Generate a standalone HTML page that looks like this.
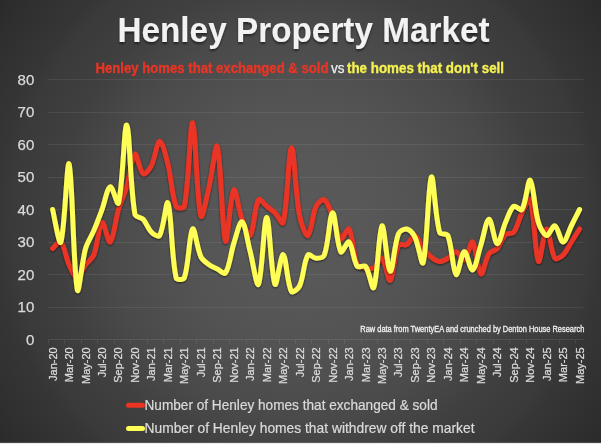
<!DOCTYPE html>
<html><head><meta charset="utf-8">
<style>
html,body{margin:0;padding:0;}
body{width:601px;height:444px;overflow:hidden;position:relative;
background:radial-gradient(circle at 300px 222px, #595959 0px, #585858 62px, #535353 127px, #4a4a4a 196px, #464646 216px, #404040 243px, #3a3a3a 290px, #363636 303px, #2f2f2f 348px, #2a2a2a 375px);
font-family:"Liberation Sans",Arial,sans-serif;}
#bot{position:absolute;left:0;top:442px;width:601px;height:2px;background:linear-gradient(to bottom, rgba(255,255,255,0.13) 0px, rgba(255,255,255,0.13) 1px, #ececec 1px, #ececec 2px);}
svg{position:absolute;left:0;top:0;}
text{font-family:"Liberation Sans",Arial,sans-serif;}
.g{stroke:#ffffff;stroke-opacity:0.075;stroke-width:1}
.ax{stroke:#ffffff;stroke-opacity:0.09;stroke-width:1}
.yl{fill:#dadada;font-size:15px;text-anchor:end;stroke:#dadada;stroke-width:0.25px}
.xl{fill:#dcdcdc;font-size:11px;text-anchor:end;stroke:#dcdcdc;stroke-width:0.25px}
.src{fill:#f2f2f2;font-size:8.7px;font-weight:normal;stroke:#f2f2f2;stroke-width:0.3px}
.leg{fill:#dadada;font-size:14.8px;stroke:#dadada;stroke-width:0.22px}
.ttl{fill:#f2f2f2;font-size:35.5px;font-weight:bold}
.sub{font-size:14.8px;font-weight:bold}
</style></head><body>
<svg width="601" height="444" viewBox="0 0 601 444">
<defs>
<filter id="sh" x="-5%" y="-20%" width="110%" height="140%">
<feGaussianBlur in="SourceAlpha" stdDeviation="1.2"/>
<feOffset dx="0.3" dy="1" result="b"/>
<feComponentTransfer><feFuncA type="linear" slope="0.6"/></feComponentTransfer>
<feMerge><feMergeNode/><feMergeNode in="SourceGraphic"/></feMerge>
</filter>
<filter id="tsh" x="-5%" y="-20%" width="110%" height="150%">
<feGaussianBlur in="SourceAlpha" stdDeviation="1.0"/>
<feOffset dx="0.2" dy="1.6" result="b"/>
<feComponentTransfer><feFuncA type="linear" slope="0.5"/></feComponentTransfer>
<feMerge><feMergeNode/><feMergeNode in="SourceGraphic"/></feMerge>
</filter>
</defs>
<text x="117.4" y="42" class="ttl" textLength="372.3" lengthAdjust="spacingAndGlyphs" filter="url(#tsh)">Henley Property Market</text>
<text x="95.5" y="72.9" class="sub" fill="#ea3525" stroke="#ea3525" stroke-width="0.35" textLength="233" lengthAdjust="spacingAndGlyphs">Henley homes that exchanged &amp; sold</text>
<text x="331" y="72.9" class="sub" fill="#eeeeee" stroke="#eeeeee" stroke-width="0.25" font-weight="normal" style="font-weight:normal" textLength="13.5" lengthAdjust="spacingAndGlyphs">vs</text>
<text x="347" y="72.9" class="sub" fill="#f4f150" stroke="#f4f150" stroke-width="0.35" textLength="157" lengthAdjust="spacingAndGlyphs">the homes that don't sell</text>
<line x1="48" y1="307.50" x2="583.5" y2="307.50" class="g"/>
<line x1="48" y1="274.50" x2="583.5" y2="274.50" class="g"/>
<line x1="48" y1="242.50" x2="583.5" y2="242.50" class="g"/>
<line x1="48" y1="209.50" x2="583.5" y2="209.50" class="g"/>
<line x1="48" y1="177.50" x2="583.5" y2="177.50" class="g"/>
<line x1="48" y1="144.50" x2="583.5" y2="144.50" class="g"/>
<line x1="48" y1="112.50" x2="583.5" y2="112.50" class="g"/>
<line x1="48" y1="79.50" x2="583.5" y2="79.50" class="g"/>

<line x1="48" y1="339.5" x2="583.5" y2="339.5" class="ax"/>
<line x1="48.50" y1="340" x2="48.50" y2="343.5" class="ax"/>
<line x1="64.50" y1="340" x2="64.50" y2="343.5" class="ax"/>
<line x1="81.50" y1="340" x2="81.50" y2="343.5" class="ax"/>
<line x1="97.50" y1="340" x2="97.50" y2="343.5" class="ax"/>
<line x1="114.50" y1="340" x2="114.50" y2="343.5" class="ax"/>
<line x1="130.50" y1="340" x2="130.50" y2="343.5" class="ax"/>
<line x1="147.50" y1="340" x2="147.50" y2="343.5" class="ax"/>
<line x1="163.50" y1="340" x2="163.50" y2="343.5" class="ax"/>
<line x1="180.50" y1="340" x2="180.50" y2="343.5" class="ax"/>
<line x1="196.50" y1="340" x2="196.50" y2="343.5" class="ax"/>
<line x1="213.50" y1="340" x2="213.50" y2="343.5" class="ax"/>
<line x1="229.50" y1="340" x2="229.50" y2="343.5" class="ax"/>
<line x1="246.50" y1="340" x2="246.50" y2="343.5" class="ax"/>
<line x1="262.50" y1="340" x2="262.50" y2="343.5" class="ax"/>
<line x1="279.50" y1="340" x2="279.50" y2="343.5" class="ax"/>
<line x1="295.50" y1="340" x2="295.50" y2="343.5" class="ax"/>
<line x1="311.50" y1="340" x2="311.50" y2="343.5" class="ax"/>
<line x1="328.50" y1="340" x2="328.50" y2="343.5" class="ax"/>
<line x1="344.50" y1="340" x2="344.50" y2="343.5" class="ax"/>
<line x1="361.50" y1="340" x2="361.50" y2="343.5" class="ax"/>
<line x1="377.50" y1="340" x2="377.50" y2="343.5" class="ax"/>
<line x1="394.50" y1="340" x2="394.50" y2="343.5" class="ax"/>
<line x1="410.50" y1="340" x2="410.50" y2="343.5" class="ax"/>
<line x1="427.50" y1="340" x2="427.50" y2="343.5" class="ax"/>
<line x1="443.50" y1="340" x2="443.50" y2="343.5" class="ax"/>
<line x1="460.50" y1="340" x2="460.50" y2="343.5" class="ax"/>
<line x1="476.50" y1="340" x2="476.50" y2="343.5" class="ax"/>
<line x1="493.50" y1="340" x2="493.50" y2="343.5" class="ax"/>
<line x1="509.50" y1="340" x2="509.50" y2="343.5" class="ax"/>
<line x1="526.50" y1="340" x2="526.50" y2="343.5" class="ax"/>
<line x1="542.50" y1="340" x2="542.50" y2="343.5" class="ax"/>
<line x1="559.50" y1="340" x2="559.50" y2="343.5" class="ax"/>
<line x1="575.50" y1="340" x2="575.50" y2="343.5" class="ax"/>

<text x="34.3" y="344.90" class="yl">0</text>
<text x="34.3" y="312.40" class="yl">10</text>
<text x="34.3" y="279.90" class="yl">20</text>
<text x="34.3" y="247.40" class="yl">30</text>
<text x="34.3" y="214.90" class="yl">40</text>
<text x="34.3" y="182.40" class="yl">50</text>
<text x="34.3" y="149.90" class="yl">60</text>
<text x="34.3" y="117.40" class="yl">70</text>
<text x="34.3" y="84.90" class="yl">80</text>

<text transform="translate(56.62,347.3) rotate(-90)" class="xl">Jan-20</text>
<text transform="translate(73.09,347.3) rotate(-90)" class="xl">Mar-20</text>
<text transform="translate(89.55,347.3) rotate(-90)" class="xl">May-20</text>
<text transform="translate(106.02,347.3) rotate(-90)" class="xl">Jul-20</text>
<text transform="translate(122.49,347.3) rotate(-90)" class="xl">Sep-20</text>
<text transform="translate(138.96,347.3) rotate(-90)" class="xl">Nov-20</text>
<text transform="translate(155.43,347.3) rotate(-90)" class="xl">Jan-21</text>
<text transform="translate(171.89,347.3) rotate(-90)" class="xl">Mar-21</text>
<text transform="translate(188.36,347.3) rotate(-90)" class="xl">May-21</text>
<text transform="translate(204.83,347.3) rotate(-90)" class="xl">Jul-21</text>
<text transform="translate(221.30,347.3) rotate(-90)" class="xl">Sep-21</text>
<text transform="translate(237.76,347.3) rotate(-90)" class="xl">Nov-21</text>
<text transform="translate(254.23,347.3) rotate(-90)" class="xl">Jan-22</text>
<text transform="translate(270.70,347.3) rotate(-90)" class="xl">Mar-22</text>
<text transform="translate(287.17,347.3) rotate(-90)" class="xl">May-22</text>
<text transform="translate(303.64,347.3) rotate(-90)" class="xl">Jul-22</text>
<text transform="translate(320.11,347.3) rotate(-90)" class="xl">Sep-22</text>
<text transform="translate(336.57,347.3) rotate(-90)" class="xl">Nov-22</text>
<text transform="translate(353.04,347.3) rotate(-90)" class="xl">Jan-23</text>
<text transform="translate(369.51,347.3) rotate(-90)" class="xl">Mar-23</text>
<text transform="translate(385.98,347.3) rotate(-90)" class="xl">May-23</text>
<text transform="translate(402.44,347.3) rotate(-90)" class="xl">Jul-23</text>
<text transform="translate(418.91,347.3) rotate(-90)" class="xl">Sep-23</text>
<text transform="translate(435.38,347.3) rotate(-90)" class="xl">Nov-23</text>
<text transform="translate(451.85,347.3) rotate(-90)" class="xl">Jan-24</text>
<text transform="translate(468.32,347.3) rotate(-90)" class="xl">Mar-24</text>
<text transform="translate(484.79,347.3) rotate(-90)" class="xl">May-24</text>
<text transform="translate(501.25,347.3) rotate(-90)" class="xl">Jul-24</text>
<text transform="translate(517.72,347.3) rotate(-90)" class="xl">Sep-24</text>
<text transform="translate(534.19,347.3) rotate(-90)" class="xl">Nov-24</text>
<text transform="translate(550.66,347.3) rotate(-90)" class="xl">Jan-25</text>
<text transform="translate(567.12,347.3) rotate(-90)" class="xl">Mar-25</text>
<text transform="translate(583.59,347.3) rotate(-90)" class="xl">May-25</text>

<path d="M52.62 248.50 C53.99 247.42 59.19 240.36 60.85 242.00 C64.68 245.78 65.73 257.47 69.09 264.75 C71.22 269.38 74.57 277.75 77.32 277.75 C80.06 277.75 82.55 268.90 85.55 264.75 C88.04 261.31 92.27 258.88 93.79 255.00 C97.76 244.80 98.66 225.16 102.02 222.50 C104.15 220.82 108.13 243.68 110.25 242.00 C113.62 239.34 115.30 220.20 118.49 209.50 C120.79 201.78 124.42 194.47 126.72 186.75 C129.91 176.05 131.59 156.91 134.96 154.25 C137.08 152.57 139.64 171.30 143.19 173.75 C145.13 175.09 149.72 168.99 151.43 165.62 C155.21 158.15 156.83 141.53 159.66 141.25 C162.32 140.99 165.92 156.20 167.89 164.00 C171.41 177.87 171.52 194.43 176.13 206.25 C177.01 208.51 183.87 208.74 184.36 206.25 C189.36 180.90 190.00 121.19 192.59 122.72 C195.49 124.44 196.68 199.89 200.83 216.00 C202.17 221.23 206.73 196.60 209.06 186.75 C212.22 173.42 215.64 140.98 217.30 146.45 C221.13 159.07 221.98 231.63 225.53 241.02 C227.47 246.14 230.31 194.57 233.76 190.00 C235.80 187.31 238.57 209.77 242.00 219.25 C244.06 224.93 248.41 237.66 250.23 235.50 C253.90 231.16 254.20 207.33 258.47 199.75 C259.69 197.58 263.96 204.08 266.70 206.25 C269.45 208.42 272.46 210.31 274.94 212.75 C277.95 215.72 282.37 225.64 283.17 222.50 C287.86 203.98 288.54 148.88 291.40 147.75 C294.02 146.72 295.44 193.64 299.64 216.00 C300.93 222.89 305.62 236.83 307.87 235.50 C311.11 233.58 312.02 215.11 316.11 206.25 C317.51 203.19 322.33 198.56 324.34 199.75 C327.82 201.81 330.22 210.42 332.57 216.00 C335.70 223.42 337.21 235.91 340.81 238.75 C342.70 240.25 347.62 226.76 349.04 229.00 C353.11 235.43 352.85 254.28 357.27 264.75 C358.34 267.28 362.67 267.44 365.51 268.00 C368.15 268.52 371.59 269.27 373.74 268.00 C377.08 266.02 380.05 256.80 381.98 258.25 C385.54 260.92 388.04 282.06 390.21 280.35 C393.53 277.73 393.98 254.95 398.44 245.25 C399.47 243.03 404.47 245.91 406.68 244.60 C409.96 242.66 412.48 234.92 414.91 235.50 C417.97 236.22 420.07 244.43 423.15 248.50 C425.56 251.69 428.28 254.83 431.38 257.27 C433.77 259.16 436.81 261.33 439.62 261.50 C442.30 261.66 445.34 259.74 447.85 258.25 C450.83 256.49 453.47 251.49 456.08 251.75 C458.96 252.03 462.28 261.08 464.32 259.88 C467.77 257.83 470.50 240.26 472.55 242.00 C475.99 244.91 477.48 271.50 480.79 273.85 C482.97 275.40 485.23 259.54 489.02 253.70 C490.72 251.09 495.19 250.90 497.25 248.50 C500.68 244.51 501.89 238.07 505.49 234.53 C507.38 232.66 512.14 234.34 513.72 232.25 C517.63 227.08 518.78 219.02 521.95 212.75 C524.27 208.19 529.10 196.54 530.19 199.75 C534.59 212.68 534.85 254.83 538.42 261.18 C540.34 264.58 543.79 229.51 546.66 229.00 C549.28 228.53 550.64 251.54 554.89 258.25 C556.13 260.21 561.12 256.98 563.12 255.00 C566.61 251.56 568.61 246.33 571.36 242.00 C574.10 237.67 578.22 231.17 579.59 229.00" fill="none" stroke="#ea3525" stroke-width="5" stroke-linejoin="round" stroke-linecap="round" filter="url(#sh)"/>
<path d="M52.62 209.50 C53.99 214.92 59.21 246.54 60.85 242.00 C64.70 231.38 66.98 157.89 69.09 164.00 C72.47 173.82 73.20 268.66 77.32 289.77 C78.69 296.83 81.81 261.93 85.55 248.50 C87.30 242.22 91.24 236.67 93.79 230.62 C96.73 223.67 99.37 216.58 102.02 209.50 C104.85 201.95 107.12 187.99 110.25 186.75 C112.61 185.82 117.45 206.88 118.49 203.00 C122.94 186.30 124.16 123.23 126.72 125.00 C129.65 127.02 130.00 185.99 134.96 214.38 C135.49 217.40 141.09 216.97 143.19 219.25 C146.58 222.92 147.94 228.81 151.43 232.25 C153.43 234.23 158.51 237.54 159.66 235.50 C164.00 227.79 166.20 198.66 167.89 203.00 C171.69 212.74 171.18 255.29 176.13 277.75 C176.67 280.21 183.58 280.07 184.36 277.75 C189.07 263.82 189.13 233.45 192.59 229.00 C194.62 226.41 196.91 248.12 200.83 256.62 C202.40 260.04 206.01 262.46 209.06 264.75 C211.50 266.58 214.53 267.61 217.30 268.98 C220.02 270.32 224.26 274.82 225.53 272.88 C229.75 266.37 230.66 253.26 233.76 243.62 C236.15 236.25 239.65 220.69 242.00 221.85 C245.13 223.40 247.60 241.76 250.23 251.75 C253.08 262.56 256.64 288.04 258.47 284.25 C262.13 276.66 263.96 217.62 266.70 217.62 C269.45 217.62 271.17 275.78 274.94 284.25 C276.66 288.13 280.70 253.60 283.17 254.68 C286.19 255.99 287.06 283.17 291.40 291.40 C292.55 293.57 298.34 288.75 299.64 285.88 C303.83 276.62 303.57 262.21 307.87 255.00 C309.06 253.00 313.36 258.25 316.11 258.25 C318.85 258.25 323.40 257.59 324.34 255.00 C328.89 242.42 329.72 213.31 332.57 212.75 C335.21 212.23 336.65 244.36 340.81 251.75 C342.14 254.11 347.22 240.38 349.04 242.00 C352.71 245.26 353.12 260.22 357.27 266.38 C358.61 268.34 364.05 264.50 365.51 266.38 C369.54 271.54 372.28 291.11 373.74 287.50 C377.77 277.57 378.83 228.86 381.98 225.75 C384.32 223.44 387.21 269.77 390.21 271.25 C392.70 272.48 394.05 245.14 398.44 233.88 C399.54 231.06 404.19 228.51 406.68 229.00 C409.68 229.59 413.25 233.75 414.91 237.12 C418.74 244.91 421.85 267.22 423.15 262.48 C427.34 247.18 428.06 183.10 431.38 177.00 C433.54 173.03 434.88 215.42 439.62 232.25 C440.37 234.92 446.85 232.94 447.85 235.50 C452.34 247.02 452.67 271.13 456.08 274.50 C458.16 276.55 461.31 252.58 464.32 251.75 C466.80 251.06 470.17 270.89 472.55 269.95 C475.66 268.72 478.10 253.50 480.79 245.25 C483.59 236.60 486.19 219.53 489.02 219.25 C491.68 218.99 494.34 243.05 497.25 243.62 C499.82 244.13 502.44 229.41 505.49 222.50 C507.93 216.95 510.03 209.17 513.72 206.25 C515.52 204.83 520.72 211.46 521.95 209.50 C526.21 202.79 527.92 178.46 530.19 180.25 C533.41 182.79 534.38 208.93 538.42 222.50 C539.87 227.35 543.66 234.91 546.66 235.50 C549.15 235.99 552.63 224.86 554.89 225.75 C558.12 227.02 560.38 242.00 563.12 242.00 C565.87 242.00 568.61 231.17 571.36 225.75 C574.10 220.33 578.22 212.21 579.59 209.50" fill="none" stroke="#fffe56" stroke-width="5" stroke-linejoin="round" stroke-linecap="round" filter="url(#sh)"/>
<text x="360.3" y="331.7" class="src" textLength="224" lengthAdjust="spacingAndGlyphs">Raw data from TwentyEA and crunched by Denton House Research</text>
<line x1="128.5" y1="405.3" x2="142.5" y2="405.3" stroke="#ea3525" stroke-width="5" stroke-linecap="round"/>
<line x1="128.5" y1="428.5" x2="142.5" y2="428.5" stroke="#fffe56" stroke-width="5" stroke-linecap="round"/>
<text x="144.5" y="410" class="leg" textLength="293" lengthAdjust="spacingAndGlyphs">Number of Henley homes that exchanged &amp; sold</text>
<text x="144.5" y="433" class="leg" textLength="330" lengthAdjust="spacingAndGlyphs">Number of Henley homes that withdrew off the market</text>
</svg>
<div id="bot"></div>
</body></html>
